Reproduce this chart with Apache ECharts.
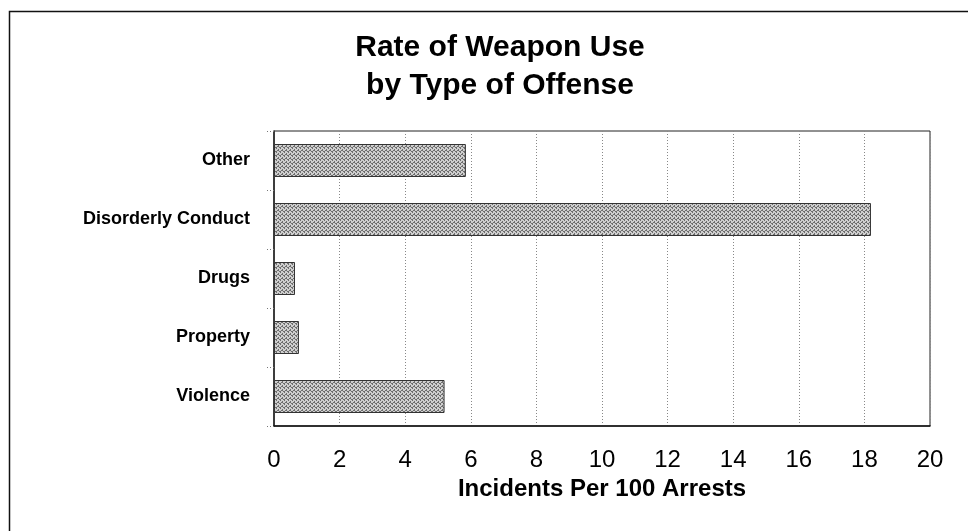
<!DOCTYPE html>
<html>
<head>
<meta charset="utf-8">
<script src="https://cdn.jsdelivr.net/npm/echarts@6/dist/echarts.min.js"></script>
<style>
  html, body { margin: 0; padding: 0; background: #fff; }
  #chart { width: 968px; height: 531px; }
</style>
</head>
<body>
<div id="chart"></div>
<script>
// offense types, bottom to top as drawn
const offenses = ['Violence', 'Property', 'Drugs', 'Disorderly Conduct', 'Other']
// incidents per 100 arrests
const rates = [5.2, 0.76, 0.64, 18.2, 5.85]
const xTicks = [0, 2, 4, 6, 8, 10, 12, 14, 16, 18, 20]

// stipple fill like the printed bars
function stipple () {
  let c = document.createElement('canvas')
  c.width = 4
  c.height = 4
  let ctx = c.getContext('2d')
  ctx.fillStyle = '#cfcfcf'
  ctx.fillRect(0, 0, 4, 4)
  ctx.fillStyle = '#6e6e6e'
  ctx.fillRect(0, 0, 1, 1)
  ctx.fillRect(2, 1, 1, 1)
  ctx.fillRect(1, 2, 1, 1)
  ctx.fillRect(3, 3, 1, 1)
  ctx.fillRect(2, 2, 1, 1)
  ctx.fillRect(0, 3, 1, 1)
  return c
}

let myChart = echarts.init(document.getElementById('chart'))
let option = {
  animation: false,
  backgroundColor: '#fff',
  textStyle: { fontFamily: 'Liberation Sans, Arial, sans-serif' },
  title: {
    text: 'Rate of Weapon Use\nby Type of Offense',
    left: 495,
    top: 24,
    textAlign: 'center',
    textStyle: {
      fontSize: 30,
      fontWeight: 'bold',
      color: '#000',
      lineHeight: 38
    }
  },
  graphic: [
    {
      type: 'rect',
      left: 7,
      top: 9,
      shape: { width: 1000, height: 560 },
      style: { fill: 'none', stroke: '#111', lineWidth: 1.5 },
      silent: true
    }
  ],
  grid: {
    left: 274,
    right: 38,
    top: 131,
    bottom: 105,
    show: true,
    borderColor: '#222',
    borderWidth: 1
  },
  xAxis: {
    type: 'value',
    min: xTicks[0],
    max: xTicks[xTicks.length - 1],
    interval: 2,
    name: 'Incidents Per 100 Arrests',
    nameLocation: 'middle',
    nameGap: 42,
    nameTextStyle: { fontSize: 24, fontWeight: 'bold', color: '#000' },
    axisLine: { show: true, lineStyle: { color: '#111', width: 1.5 } },
    axisTick: { show: false },
    axisLabel: { fontSize: 24, color: '#000', margin: 22 },
    splitLine: { show: true, lineStyle: { color: '#888', type: [1, 2], width: 1 } }
  },
  yAxis: {
    type: 'category',
    data: offenses,
    axisLine: { show: true, lineStyle: { color: '#222', width: 1.5 } },
    axisTick: { show: true, length: 9, lineStyle: { color: '#777', type: [1, 2] } },
    axisLabel: { fontSize: 18, fontWeight: 'bold', color: '#000', margin: 24 },
    splitLine: { show: false }
  },
  series: [
    {
      type: 'bar',
      data: rates,
      barWidth: 33,
      itemStyle: {
        color: { image: stipple(), repeat: 'repeat' },
        borderColor: '#333',
        borderWidth: 1
      }
    }
  ]
}
myChart.setOption(option)
</script>
</body>
</html>
